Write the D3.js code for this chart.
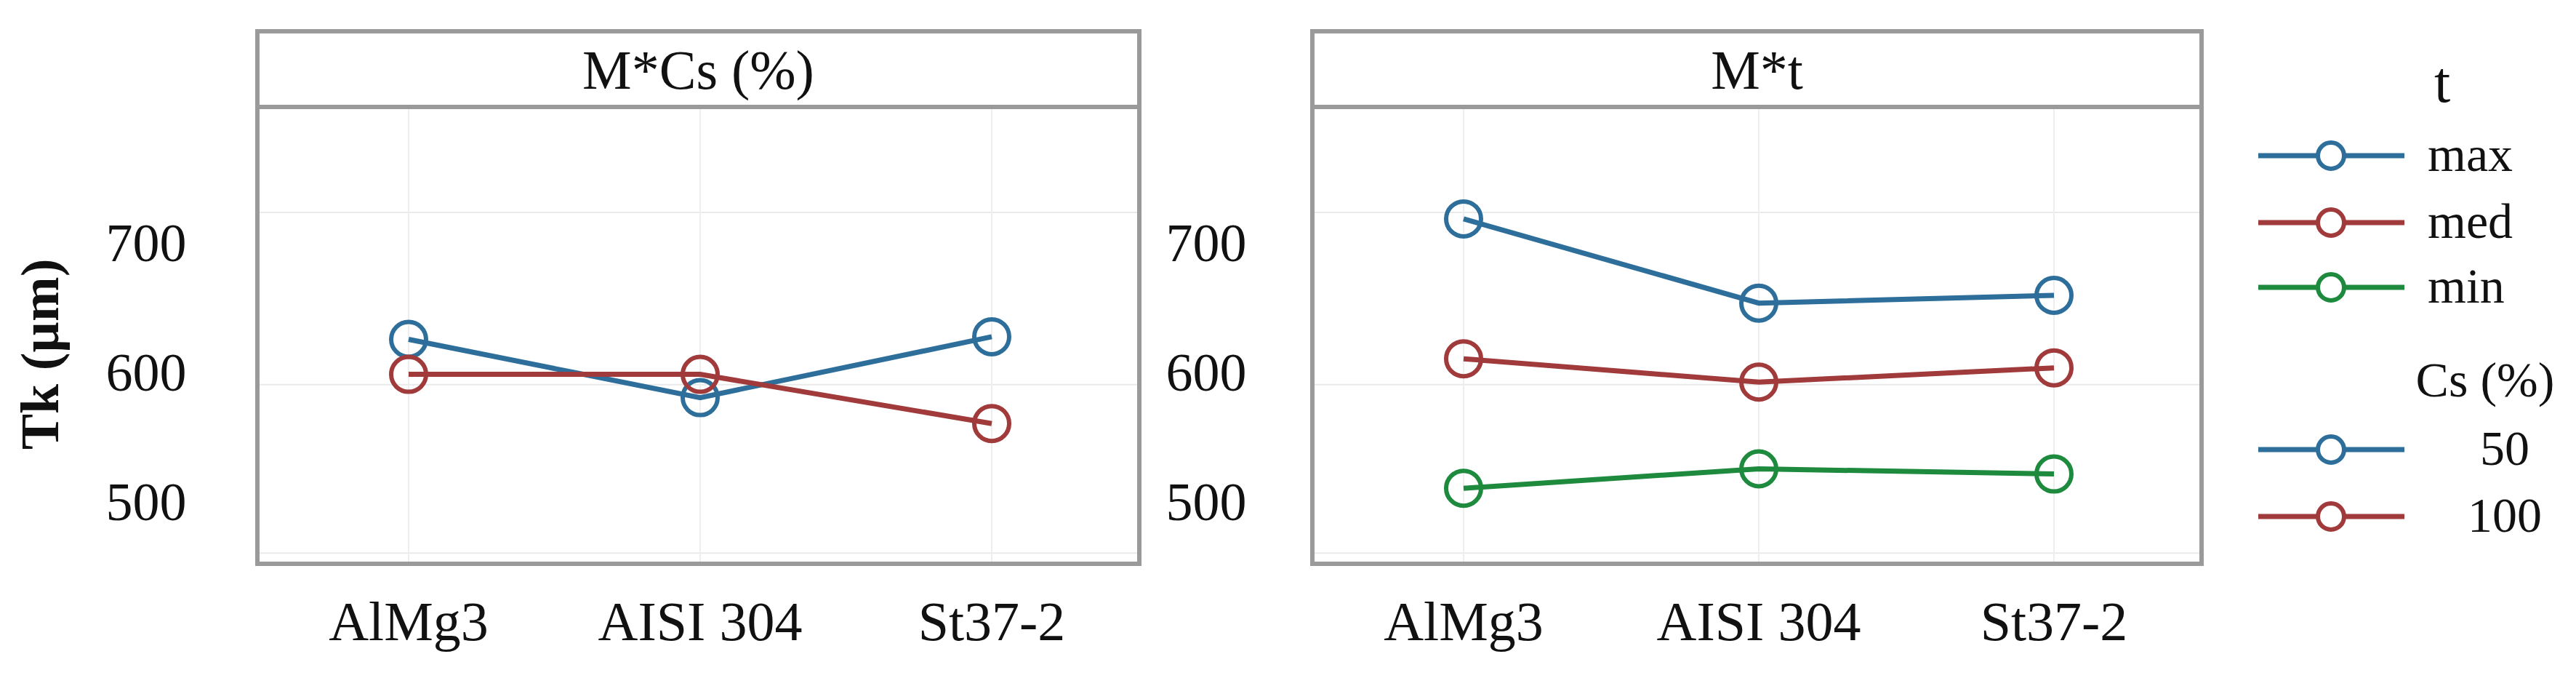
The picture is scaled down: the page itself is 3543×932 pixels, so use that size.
<!DOCTYPE html>
<html><head><meta charset="utf-8">
<script src="https://cdn.jsdelivr.net/npm/d3@7"></script>
<style>body{margin:0;background:#fff}text{font-family:"Liberation Serif","DejaVu Serif",serif;fill:#111}</style>
</head><body><svg id="chart" width="3543" height="932"></svg>
<script>
const materials = ["AlMg3", "AISI 304", "St37-2"];
const yTicks = [500, 600, 700];
const gridVals = [460, 590, 723];
const csLevels = ["50", "100"];
const csValues = [[625, 580, 627], [598, 598, 560]];
const tLevels = ["max", "med", "min"];
const tValues = [[718, 653, 659], [610, 592, 603], [510, 525, 521]];
const colors = {blue: "#2e6e9b", red: "#a13a3a", green: "#1e8a3e"};
const csColors = [colors.blue, colors.red];
const tColors = [colors.blue, colors.red, colors.green];

const svg = d3.select("#chart");
const y = d3.scaleLinear().domain([500, 700]).range([689, 333]);

function panel(x0, x1, title, names, values, cols, labelX) {
  const x = d3.scalePoint().domain(materials).range([x0 + 208, x1 - 203]);
  const g = svg.append("g");
  g.selectAll(".grid").data(gridVals).enter().append("line")
    .attr("x1", x0).attr("x2", x1).attr("y1", d => y(d)).attr("y2", d => y(d))
    .attr("stroke", "#eaeaea").attr("stroke-width", 2);
  g.selectAll(".vgrid").data(materials).enter().append("line")
    .attr("x1", d => x(d)).attr("x2", d => x(d)).attr("y1", 149).attr("y2", 775)
    .attr("stroke", "#eeeeee").attr("stroke-width", 2);
  g.append("rect").attr("x", x0).attr("y", 43).attr("width", x1 - x0).attr("height", 732)
    .attr("fill", "none").attr("stroke", "#9a9a9a").attr("stroke-width", 6);
  g.append("line").attr("x1", x0).attr("x2", x1).attr("y1", 147).attr("y2", 147)
    .attr("stroke", "#9a9a9a").attr("stroke-width", 6);
  g.append("text").attr("x", (x0 + x1) / 2).attr("y", 122).attr("text-anchor", "middle")
    .attr("font-size", 76).text(title);
  g.selectAll(".yl").data(yTicks).enter().append("text")
    .attr("x", labelX).attr("y", d => y(d) + 26).attr("text-anchor", "middle")
    .attr("font-size", 74).text(d => d);
  g.selectAll(".xl").data(materials).enter().append("text")
    .attr("x", d => x(d)).attr("y", 880).attr("text-anchor", "middle")
    .attr("font-size", 76).text(d => d);
  const line = d3.line().x((d, i) => x(materials[i])).y(d => y(d));
  values.forEach((vals, k) => {
    g.append("path").attr("d", line(vals)).attr("fill", "none")
      .attr("stroke", cols[k]).attr("stroke-width", 7);
    g.selectAll(null).data(vals).enter().append("circle")
      .attr("cx", (d, i) => x(materials[i])).attr("cy", d => y(d)).attr("r", 24)
      .attr("fill", "none").attr("stroke", cols[k]).attr("stroke-width", 6);
  });
}

panel(354, 1567, "M*Cs (%)", csLevels, csValues, csColors, 201);
panel(1805, 3028, "M*t", tLevels, tValues, tColors, 1659);

svg.append("text").attr("transform", "translate(80,487) rotate(-90)")
  .attr("text-anchor", "middle").attr("font-size", 74).attr("font-weight", "bold").text("Tk (µm)");

// legends
const leg = svg.append("g");
leg.append("text").attr("x", 3359).attr("y", 140).attr("text-anchor", "middle").attr("font-size", 80).text("t");
function legItem(yy, col, label, lx, anchor) {
  leg.append("line").attr("x1", 3106).attr("x2", 3307).attr("y1", yy).attr("y2", yy)
    .attr("stroke", col).attr("stroke-width", 7);
  leg.append("circle").attr("cx", 3206).attr("cy", yy).attr("r", 18)
    .attr("fill", "#fff").attr("stroke", col).attr("stroke-width", 6);
  leg.append("text").attr("x", lx).attr("y", yy + 21).attr("text-anchor", anchor)
    .attr("font-size", 68).text(label);
}
tLevels.forEach((d, i) => legItem([214, 306, 395][i], tColors[i], d, 3339, "start"));
leg.append("text").attr("x", 3418).attr("y", 545).attr("text-anchor", "middle").attr("font-size", 68).text("Cs (%)");
csLevels.forEach((d, i) => legItem([618, 710][i], csColors[i], d, 3445, "middle"));
</script></body></html>
